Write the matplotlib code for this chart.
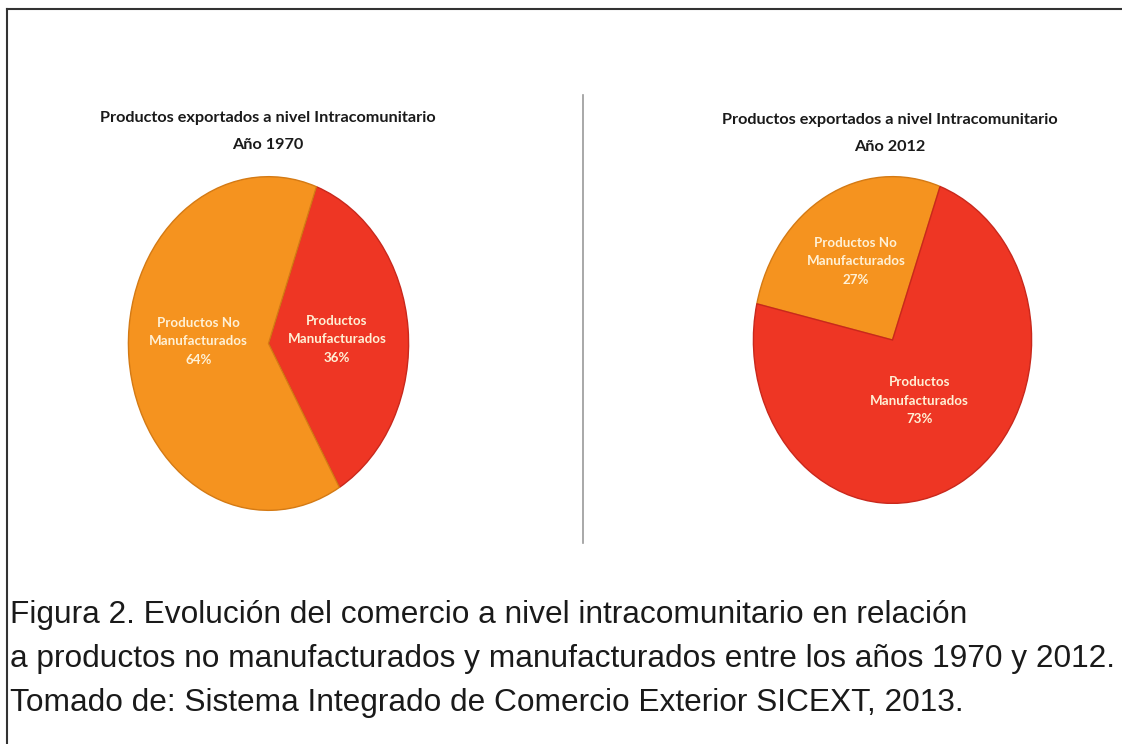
import numpy as np
import matplotlib
matplotlib.use("Agg")
import matplotlib.pyplot as plt
from matplotlib.lines import Line2D

# data
categories = ["Productos\nManufacturados", "Productos No\nManufacturados"]
share_1970 = [36, 64]
share_2012 = [73, 27]
chart_title = "Productos exportados a nivel Intracomunitario"
years = ["Año 1970", "Año 2012"]
caption = [
    "Figura 2. Evolución del comercio a nivel intracomunitario en relación",
    "a productos no manufacturados y manufacturados entre los años 1970 y 2012.",
    "Tomado de: Sistema Integrado de Comercio Exterior SICEXT, 2013.",
]

red = "#EE3624"
orange = "#F5931F"
red_edge = "#C9281C"
orange_edge = "#D47A14"

W, H = 1122, 744
fig = plt.figure(figsize=(W / 100, H / 100), dpi=100)
fig.patch.set_facecolor("white")


def px_axes(x0, y0, x1, y1):
    # pixel box (top-left origin) -> axes
    return fig.add_axes([x0 / W, 1 - y1 / H, (x1 - x0) / W, (y1 - y0) / H])


def draw_pie(ax, values, cats, colors, edges, counterclock, label_pos):
    wedges, texts = ax.pie(values, colors=colors, startangle=70,
                           counterclock=counterclock,
                           labels=[f"{c}\n{v}%" for c, v in zip(cats, values)],
                           labeldistance=0.5,
                           wedgeprops=dict(linewidth=1.0),
                           textprops=dict(family="Lato", fontweight="bold",
                                          fontsize=9.6, color="#FFF1D6",
                                          ha="center", va="center",
                                          linespacing=1.65))
    for w, e in zip(wedges, edges):
        w.set_edgecolor(e)
    for w, t, (d, dy) in zip(wedges, texts, label_pos):
        mid = np.deg2rad((w.theta1 + w.theta2) / 2)
        t.set_position((d * np.cos(mid), d * np.sin(mid) + dy))
        t.set_ha("center")
    ax.set_aspect("auto")
    ax.set_xlim(-1.01, 1.01)
    ax.set_ylim(-1.01, 1.01)
    ax.axis("off")


# left pie (1970) - red first, clockwise
ax1 = px_axes(127, 175, 410, 512)
draw_pie(ax1, share_1970, categories, [red, orange], [red_edge, orange_edge],
         False, [(0.49, -0.02), (0.5, 0.06)])

# right pie (2012) - orange first, counterclockwise
ax2 = px_axes(752, 175, 1033, 505)
draw_pie(ax2, share_2012[::-1], categories[::-1], [orange, red], [orange_edge, red_edge],
         True, [(0.55, 0.0), (0.40, -0.02)])

# titles
for cx, cy, yr in [(268, 118, years[0]), (890, 120, years[1])]:
    fig.text(cx / W, 1 - cy / H, chart_title, family="Lato", fontweight="bold",
             fontsize=11.7, ha="center", va="center", color="#1a1a1a")
    fig.text(cx / W, 1 - (cy + 27) / H, yr, family="Lato", fontweight="bold",
             fontsize=11.7, ha="center", va="center", color="#1a1a1a")

# frame and separator
fig.add_artist(Line2D([7 / W, 7 / W], [0, 1 - 9 / H], color="#333333", lw=1.5))
fig.add_artist(Line2D([7 / W, 1], [1 - 9 / H, 1 - 9 / H], color="#333333", lw=1.5))
fig.add_artist(Line2D([583 / W, 583 / W], [1 - 95 / H, 1 - 543 / H], color="#9a9a9a", lw=1.2))

# caption
for line, base in zip(caption, [623, 667, 711]):
    fig.text(10 / W, 1 - base / H, line, family="Liberation Sans", fontsize=22.8,
             ha="left", va="baseline", color="#1a1a1a")

fig.savefig("out.png", dpi=100, facecolor="white")
